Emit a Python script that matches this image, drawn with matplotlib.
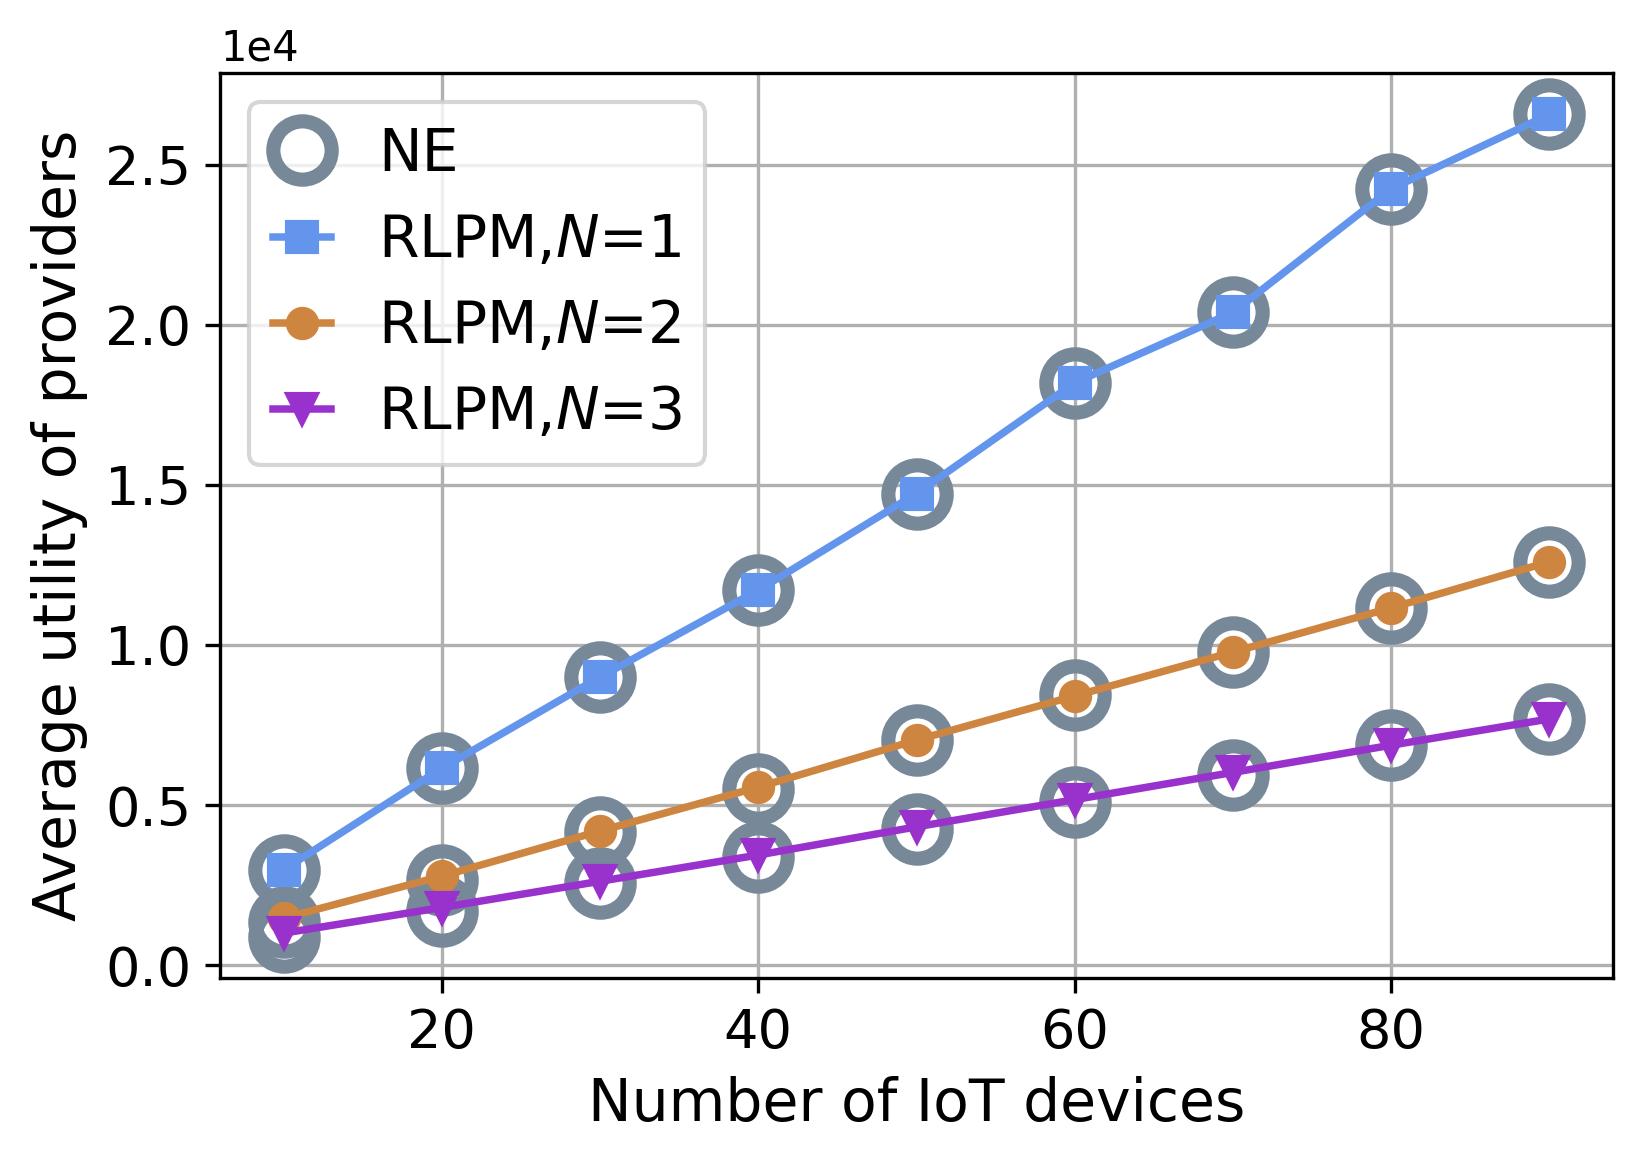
import matplotlib
matplotlib.use("Agg")
import matplotlib.pyplot as plt

devices = [10, 20, 30, 40, 50, 60, 70, 80, 90]
rlpm_n1 = [2980, 6150, 9000, 11710, 14730, 18190, 20390, 24250, 26570]
rlpm_n2 = [1470, 2780, 4190, 5560, 7030, 8410, 9780, 11160, 12600]
rlpm_n3 = [1000, 1800, 2620, 3440, 4320, 5170, 6020, 6870, 7690]
ne_n1 = [2980, 6150, 9000, 11710, 14730, 18190, 20390, 24250, 26570]
ne_n2 = [1350, 2650, 4150, 5500, 7030, 8450, 9780, 11160, 12600]
ne_n3 = [890, 1700, 2570, 3370, 4260, 5110, 5930, 6870, 7690]

plt.rcParams['font.size'] = 13

fig, ax = plt.subplots(figsize=(5.48, 3.88), dpi=300)

ne_style = dict(linestyle='none', marker='o', markersize=14, markerfacecolor='none',
                markeredgecolor='lightslategray', markeredgewidth=3.4)
ax.plot(devices, ne_n1, label='NE', **ne_style)
ax.plot(devices, ne_n2, **ne_style)
ax.plot(devices, ne_n3, **ne_style)

ax.plot(devices, rlpm_n1, '-s', color='cornflowerblue', lw=1.8, markersize=7, label=r'RLPM,$N$=1')
ax.plot(devices, rlpm_n2, '-o', color='peru', lw=1.8, markersize=7, label=r'RLPM,$N$=2')
ax.plot(devices, rlpm_n3, '-v', color='darkorchid', lw=1.8, markersize=7, label=r'RLPM,$N$=3')

ax.ticklabel_format(axis='y', style='sci', scilimits=(0, 0))
ax.yaxis.get_offset_text().set_fontsize(10)
ax.grid(True, color='#b0b0b0', lw=0.8)
ax.set_xlabel('Number of IoT devices', fontsize=14)
ax.set_ylabel('Average utility of providers', fontsize=14)
ax.legend(loc='upper left', fontsize=14, handlelength=1.0)

plt.subplots_adjust(left=0.134, right=0.981, top=0.937, bottom=0.160)
plt.savefig('out.png')
